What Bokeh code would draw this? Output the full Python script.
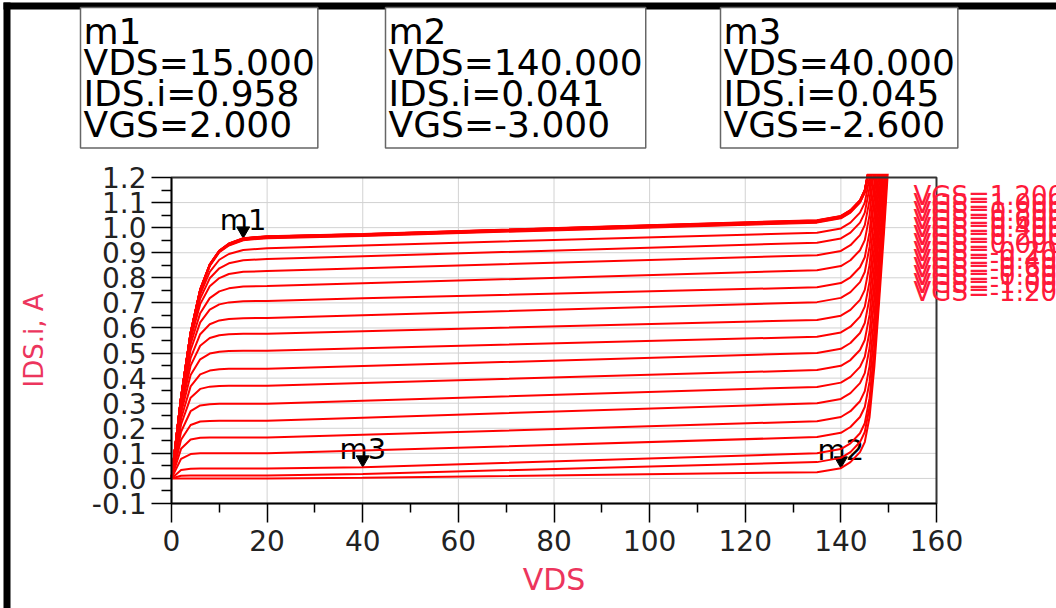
from bokeh.plotting import figure
from bokeh.models import (Range1d, FixedTicker, PrintfTickFormatter, Label, ColumnDataSource,
                          BoxAnnotation)
from bokeh.transform import dodge
from bokeh.core.properties import value
from bokeh.embed import file_html
from bokeh.resources import INLINE

# ---------------- data (values above the box are off-scale) ----------------
vds = [0, 2, 4, 6, 8, 10, 12, 15, 20, 40, 135, 140, 142, 144, 145, 146, 147, 148, 149, 150]

vgs_values = [-3.0, -2.8, -2.6, -2.4, -2.2, -2.0, -1.8, -1.6, -1.4, -1.2, -1.0, -0.8, -0.6,
              -0.4, -0.2, 0.0, 0.2, 0.4, 0.6, 0.8, 1.0, 1.2, 1.4, 1.6, 1.8, 2.0]

ids_vgs_m3p0 = [0, 0, 0, 0, 0, 0, 0, 0, 0.000, 0.003, 0.025, 0.041, 0.065, 0.105, 0.145, 0.245, 0.445, 0.705, 0.975, 1.275]
ids_vgs_m2p8 = [0, 0.011, 0.012, 0.012, 0.012, 0.012, 0.012, 0.012, 0.012, 0.018, 0.065, 0.082, 0.105, 0.145, 0.185, 0.285, 0.485, 0.745, 1.015, 1.315]
ids_vgs_m2p6 = [0, 0.034, 0.039, 0.040, 0.040, 0.040, 0.040, 0.040, 0.040, 0.045, 0.100, 0.117, 0.140, 0.180, 0.220, 0.320, 0.520, 0.780, 1.050, 1.350]
ids_vgs_m2p4 = [0, 0.078, 0.097, 0.100, 0.100, 0.100, 0.100, 0.100, 0.100, 0.111, 0.165, 0.182, 0.205, 0.245, 0.285, 0.385, 0.585, 0.845, 1.115, 1.415]
ids_vgs_m2p2 = [0, 0.118, 0.155, 0.162, 0.163, 0.163, 0.163, 0.163, 0.163, 0.174, 0.228, 0.245, 0.268, 0.308, 0.348, 0.448, 0.648, 0.908, 1.178, 1.478]
ids_vgs_m2p0 = [0, 0.154, 0.213, 0.227, 0.229, 0.230, 0.230, 0.230, 0.230, 0.242, 0.300, 0.317, 0.340, 0.380, 0.420, 0.520, 0.720, 0.980, 1.250, 1.550]
ids_vgs_m1p8 = [0, 0.186, 0.268, 0.291, 0.296, 0.298, 0.298, 0.298, 0.298, 0.310, 0.365, 0.382, 0.405, 0.445, 0.485, 0.585, 0.785, 1.045, 1.315, 1.600]
ids_vgs_m1p6 = [0, 0.215, 0.322, 0.357, 0.366, 0.369, 0.370, 0.370, 0.370, 0.381, 0.432, 0.449, 0.472, 0.512, 0.552, 0.652, 0.852, 1.112, 1.382, 1.600]
ids_vgs_m1p4 = [0, 0.238, 0.367, 0.415, 0.430, 0.435, 0.437, 0.437, 0.437, 0.448, 0.500, 0.517, 0.540, 0.580, 0.620, 0.720, 0.920, 1.180, 1.450, 1.600]
ids_vgs_m1p2 = [0, 0.260, 0.412, 0.475, 0.498, 0.505, 0.508, 0.509, 0.509, 0.519, 0.565, 0.582, 0.605, 0.645, 0.685, 0.785, 0.985, 1.245, 1.515, 1.600]
ids_vgs_m1p0 = [0, 0.277, 0.450, 0.529, 0.560, 0.571, 0.575, 0.577, 0.577, 0.587, 0.632, 0.649, 0.672, 0.712, 0.752, 0.852, 1.052, 1.312, 1.582, 1.600]
ids_vgs_m0p8 = [0, 0.290, 0.481, 0.575, 0.615, 0.630, 0.636, 0.639, 0.640, 0.651, 0.703, 0.720, 0.743, 0.783, 0.823, 0.923, 1.123, 1.383, 1.600, 1.600]
ids_vgs_m0p6 = [0, 0.303, 0.512, 0.622, 0.673, 0.694, 0.702, 0.707, 0.708, 0.718, 0.762, 0.779, 0.802, 0.842, 0.882, 0.982, 1.182, 1.442, 1.600, 1.600]
ids_vgs_m0p4 = [0, 0.311, 0.535, 0.659, 0.719, 0.746, 0.758, 0.765, 0.767, 0.778, 0.830, 0.847, 0.870, 0.910, 0.950, 1.050, 1.250, 1.510, 1.600, 1.600]
ids_vgs_m0p2 = [0, 0.319, 0.555, 0.695, 0.766, 0.799, 0.815, 0.824, 0.827, 0.838, 0.890, 0.907, 0.930, 0.970, 1.010, 1.110, 1.310, 1.570, 1.600, 1.600]
ids_vgs_p0p0 = [0, 0.321, 0.566, 0.717, 0.798, 0.838, 0.858, 0.870, 0.875, 0.886, 0.940, 0.957, 0.980, 1.020, 1.060, 1.160, 1.360, 1.600, 1.600, 1.600]
ids_vgs_p0p2 = [0, 0.322, 0.573, 0.734, 0.824, 0.872, 0.895, 0.911, 0.918, 0.929, 0.980, 0.997, 1.020, 1.060, 1.100, 1.200, 1.400, 1.600, 1.600, 1.600]
ids_vgs_p0p4 = [0, 0.322, 0.578, 0.748, 0.847, 0.902, 0.929, 0.950, 0.958, 0.967, 1.020, 1.037, 1.060, 1.100, 1.140, 1.240, 1.440, 1.600, 1.600, 1.600]
ids_vgs_p0p6 = [0, 0.323, 0.579, 0.750, 0.849, 0.904, 0.931, 0.952, 0.960, 0.969, 1.022, 1.039, 1.062, 1.102, 1.142, 1.242, 1.442, 1.600, 1.600, 1.600]
ids_vgs_p0p8 = [0, 0.323, 0.580, 0.751, 0.850, 0.905, 0.932, 0.953, 0.961, 0.970, 1.024, 1.041, 1.064, 1.104, 1.144, 1.244, 1.444, 1.600, 1.600, 1.600]
ids_vgs_p1p0 = [0, 0.323, 0.580, 0.751, 0.851, 0.906, 0.933, 0.954, 0.962, 0.971, 1.025, 1.042, 1.065, 1.105, 1.145, 1.245, 1.445, 1.600, 1.600, 1.600]
ids_vgs_p1p2 = [0, 0.324, 0.581, 0.752, 0.852, 0.907, 0.934, 0.955, 0.963, 0.972, 1.026, 1.043, 1.066, 1.106, 1.146, 1.246, 1.446, 1.600, 1.600, 1.600]
ids_vgs_p1p4 = [0, 0.324, 0.581, 0.753, 0.852, 0.907, 0.935, 0.956, 0.964, 0.973, 1.027, 1.044, 1.067, 1.107, 1.147, 1.247, 1.447, 1.600, 1.600, 1.600]
ids_vgs_p1p6 = [0, 0.324, 0.582, 0.753, 0.853, 0.908, 0.936, 0.957, 0.965, 0.974, 1.028, 1.045, 1.068, 1.108, 1.148, 1.248, 1.448, 1.600, 1.600, 1.600]
ids_vgs_p1p8 = [0, 0.324, 0.582, 0.754, 0.853, 0.908, 0.936, 0.957, 0.965, 0.974, 1.029, 1.046, 1.069, 1.109, 1.149, 1.249, 1.449, 1.600, 1.600, 1.600]
ids_vgs_p2p0 = [0, 0.324, 0.582, 0.754, 0.854, 0.909, 0.937, 0.958, 0.966, 0.975, 1.030, 1.047, 1.070, 1.110, 1.150, 1.250, 1.450, 1.600, 1.600, 1.600]

ids_curves = [ids_vgs_m3p0, ids_vgs_m2p8, ids_vgs_m2p6, ids_vgs_m2p4, ids_vgs_m2p2, ids_vgs_m2p0,
              ids_vgs_m1p8, ids_vgs_m1p6, ids_vgs_m1p4, ids_vgs_m1p2, ids_vgs_m1p0, ids_vgs_m0p8,
              ids_vgs_m0p6, ids_vgs_m0p4, ids_vgs_m0p2, ids_vgs_p0p0, ids_vgs_p0p2, ids_vgs_p0p4,
              ids_vgs_p0p6, ids_vgs_p0p8, ids_vgs_p1p0, ids_vgs_p1p2, ids_vgs_p1p4, ids_vgs_p1p6,
              ids_vgs_p1p8, ids_vgs_p2p0]

x_lim = (0, 160)
y_lim = (-0.1, 1.2)
x_ticks = [0, 20, 40, 60, 80, 100, 120, 140, 160]
x_minor = [10, 30, 50, 70, 90, 110, 130, 150]
y_ticks = [-0.1, 0.0, 0.1, 0.2, 0.3, 0.4, 0.5, 0.6, 0.7, 0.8, 0.9, 1.0, 1.1, 1.2]
y_minor = [-0.05, 0.05, 0.15, 0.25, 0.35, 0.45, 0.55, 0.65, 0.75, 0.85, 0.95, 1.05, 1.15]

marker_names = ["m1", "m2", "m3"]
marker_vds = [15.0, 140.0, 40.0]
marker_ids = [0.958, 0.041, 0.045]
marker_vgs = [2.0, -3.0, -2.6]

legend_labels = ["VGS=1.200", "VGS=1.000", "VGS=0.800", "VGS=0.600", "VGS=0.400", "VGS=0.200",
                 "VGS=0.000", "VGS=-0.200", "VGS=-0.400", "VGS=-0.600", "VGS=-0.800",
                 "VGS=-1.000", "VGS=-1.200"]

# ---------------- layout (pixels of the page) ----------------
W, H = 1056, 608
BOX_L, BOX_R, BOX_T, BOX_B = 171, 936, 177, 503      # where the axes box sits
sx = (BOX_R - BOX_L) / (x_lim[1] - x_lim[0])
sy = (BOX_B - BOX_T) / (y_lim[1] - y_lim[0])
# the frame spans the whole canvas so that the texts outside the axes box are not clipped
x_range = Range1d(x_lim[0] - BOX_L / sx, x_lim[1] + (W - BOX_R) / sx)
y_range = Range1d(y_lim[0] - (H - BOX_B) / sy, y_lim[1] + BOX_T / sy)

FONT_NAME = "DejaVu Sans"
FONT = value(FONT_NAME)
RED = "#ff0000"
LABEL_RED = "#ec355d"

p = figure(width=W, height=H, output_backend="svg", toolbar_location=None,
           x_range=x_range, y_range=y_range,
           min_border_left=0, min_border_right=0, min_border_top=0, min_border_bottom=0,
           background_fill_color="white", border_fill_color="white")
p.outline_line_color = None
p.grid.visible = False

p.xaxis.ticker = FixedTicker(ticks=x_ticks, minor_ticks=x_minor)
p.yaxis.ticker = FixedTicker(ticks=y_ticks, minor_ticks=y_minor)
p.xaxis.bounds = x_lim
p.yaxis.bounds = y_lim
p.yaxis.fixed_location = x_lim[0]
p.xaxis.fixed_location = y_lim[0]
p.yaxis.formatter = PrintfTickFormatter(format="%.1f")

for ax in (p.xaxis, p.yaxis):
    ax.axis_line_color = "black"
    ax.axis_line_width = 1.5
    ax.major_tick_line_color = "black"
    ax.major_tick_line_width = 1.5
    ax.minor_tick_line_color = "black"
    ax.minor_tick_line_width = 1.5
    ax.major_tick_in = 0
    ax.minor_tick_in = 0
    ax.major_label_text_font = FONT_NAME
    ax.major_label_text_font_size = "28px"
    ax.major_label_text_color = "#222222"
    ax.axis_label_text_font = FONT_NAME
    ax.axis_label_text_font_style = "normal"
    ax.axis_label_text_color = LABEL_RED

p.xaxis.major_tick_out = 19
p.xaxis.minor_tick_out = 9
p.yaxis.major_tick_out = 20
p.yaxis.minor_tick_out = 10
p.xaxis.major_label_standoff = 7
p.yaxis.major_label_standoff = 5
p.xaxis.axis_label = "VDS"
p.xaxis.axis_label_text_font_size = "30px"
p.xaxis.axis_label_standoff = 8
p.yaxis.axis_label = "IDS.i, A"
p.yaxis.axis_label_text_font_size = "26px"
p.yaxis.axis_label_standoff = 40

# grid lines inside the axes box, from the tick lists
p.segment(x0=x_ticks, x1=x_ticks, y0=[y_lim[0]] * len(x_ticks), y1=[y_lim[1]] * len(x_ticks),
          line_color="#d2d2d2", line_width=1)
p.segment(x0=[x_lim[0]] * len(y_ticks), x1=[x_lim[1]] * len(y_ticks), y0=y_ticks, y1=y_ticks,
          line_color="#d2d2d2", line_width=1)

# markers (drawn first, curves pass over them as in the original)
msrc = ColumnDataSource(dict(vds=marker_vds, ids=marker_ids, name=marker_names))
p.scatter(x="vds", y=dodge("ids", 0.03, range=p.y_range), source=msrc, marker="inverted_triangle",
          size=13, fill_color="black", line_color="black")
p.text(x="vds", y="ids", text="name", source=msrc, y_offset=-18, text_align="center",
       text_baseline="alphabetic", text_font=FONT, text_font_size="29px", text_color="black")

# curve family
csrc = ColumnDataSource(dict(xs=[vds for _ in ids_curves], ys=ids_curves, vgs=vgs_values))
p.multi_line(xs="xs", ys="ys", source=csrc, line_color=RED, line_width=2)

# curves are cut at the top of the axes box
p.quad(left=x_lim[1] - 40, right=x_lim[1] + 8, bottom=y_lim[1] + 0.015, top=y_range.end + 0.5,
       fill_color="white", line_color=None)
# axes box
p.quad(left=x_lim[0], right=x_lim[1], bottom=y_lim[0], top=y_lim[1], fill_color=None,
       line_color="#333333", line_width=2)

# black frame of the picture (top and left edges)
p.add_layout(BoxAnnotation(left=3, right=W, top=2, bottom=9, left_units="canvas",
                           right_units="canvas", top_units="canvas", bottom_units="canvas",
                           fill_color="black", fill_alpha=1.0, line_alpha=0))
p.add_layout(BoxAnnotation(left=3, right=10, top=2, bottom=H, left_units="canvas",
                           right_units="canvas", top_units="canvas", bottom_units="canvas",
                           fill_color="black", fill_alpha=1.0, line_alpha=0))

# marker readout boxes
box_x = [80, 385, 720]
for bx, name, xv, yv, gv in zip(box_x, marker_names, marker_vds, marker_ids, marker_vgs):
    txt = f"{name}\nVDS={xv:.3f}\nIDS.i={yv:.3f}\nVGS={gv:.3f}"
    p.add_layout(Label(x=bx, y=7, x_units="canvas", y_units="canvas", text=txt,
                       text_font=FONT_NAME, text_font_size="36px",
                       text_line_height=0.76, text_color="black", text_align="left",
                       text_baseline="top", border_line_color="#666666", border_line_width=1.5,
                       background_fill_color="white", padding=3))

# overlapping trace legend at the right
for i, lab in enumerate(legend_labels):
    p.add_layout(Label(x=913, y=180 + 8 * i, x_units="canvas", y_units="canvas", text=lab,
                       text_font=FONT_NAME, text_font_size="26px", text_color="#ff1a3a",
                       text_align="left", text_baseline="top"))

open("out.html", "w").write(file_html(p, INLINE))
